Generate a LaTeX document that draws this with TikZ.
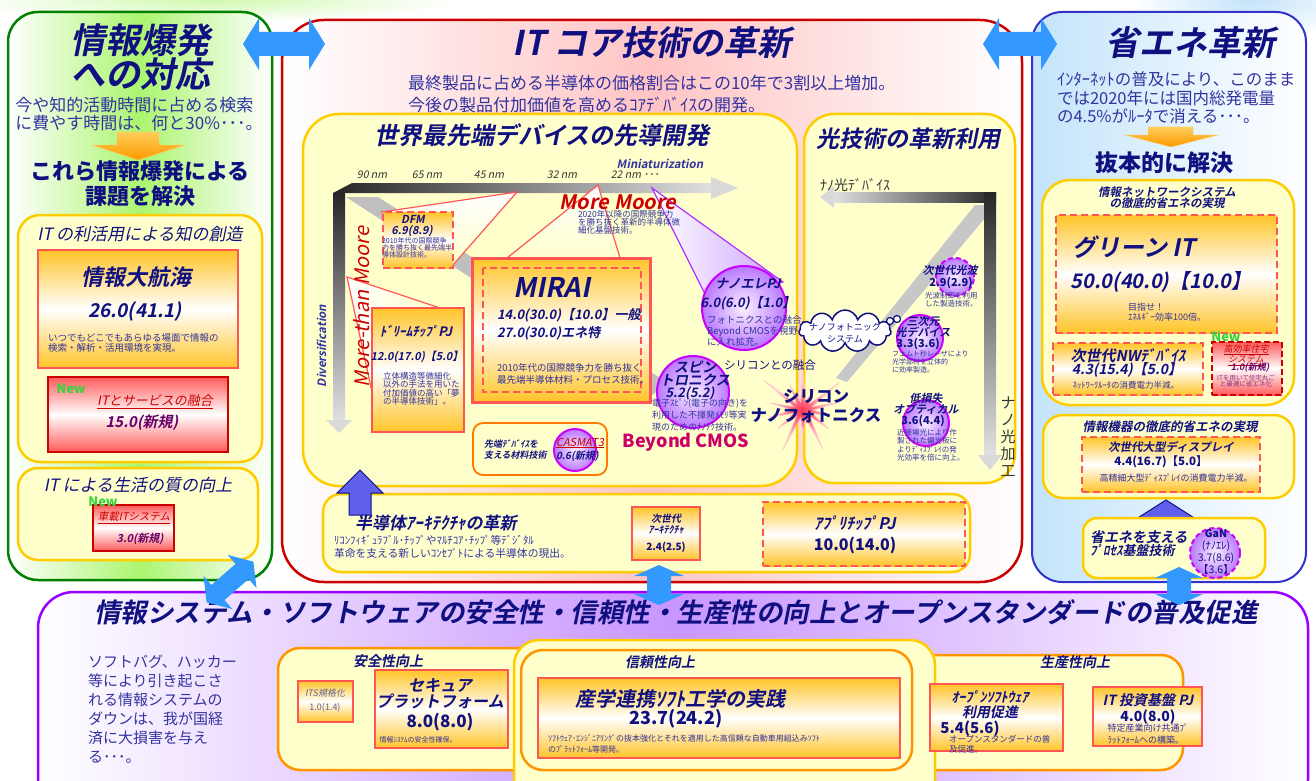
\documentclass[tikz,border=0pt]{standalone}
\usepackage{fontspec}
\setmainfont{Noto Sans CJK JP}[ItalicFont={Noto Sans CJK JP},ItalicFeatures={FakeSlant=0.2},BoldItalicFont={Noto Sans CJK JP Bold},BoldItalicFeatures={FakeSlant=0.2}]
\usetikzlibrary{fit,shapes.symbols}
\definecolor{navy}{RGB}{16,16,128}
\definecolor{dblue}{RGB}{51,51,160}
\definecolor{gold}{RGB}{255,204,0}
\definecolor{ltyel}{RGB}{255,255,204}
\definecolor{salmon}{RGB}{255,85,85}
\definecolor{orgrad}{RGB}{255,196,40}
\definecolor{dred}{RGB}{204,0,0}
\definecolor{redgrad}{RGB}{255,90,90}
\definecolor{ppl}{RGB}{153,0,255}
\definecolor{ballb}{RGB}{204,0,255}
\definecolor{ballin}{RGB}{250,240,255}
\definecolor{ballout}{RGB}{185,120,255}
\definecolor{newg}{RGB}{60,210,60}
\definecolor{arrb}{RGB}{51,153,255}
\definecolor{orarr}{RGB}{255,153,0}
\definecolor{orarrl}{RGB}{255,205,90}
\definecolor{uparr}{RGB}{95,95,235}
\definecolor{pgreen}{RGB}{0,128,0}
\definecolor{lgreen}{RGB}{170,245,110}
\definecolor{pblue}{RGB}{51,51,204}
\definecolor{lblue}{RGB}{195,228,250}
\definecolor{lpink}{RGB}{255,196,196}
\definecolor{lpurp}{RGB}{200,150,255}
\definecolor{orbord}{RGB}{255,150,0}
\definecolor{mred}{RGB}{204,0,0}
\definecolor{bcmos}{RGB}{204,0,102}
\definecolor{vio}{RGB}{102,0,102}
\definecolor{starred}{RGB}{255,50,80}
\definecolor{lavender}{RGB}{205,165,255}
\definecolor{itsgray}{RGB}{100,100,150}
\newcommand\fz[2]{\fontsize{#1}{#2}\selectfont}
\newcommand\dblarr[7]{%
\begin{scope}[shift={(#1,#2)},rotate=#3]
\fill[arrb] ({-#4/2},0) -- ({-#4/2+#5},#6) -- ({-#4/2+#5},#7) -- ({#4/2-#5},#7) -- ({#4/2-#5},#6) -- ({#4/2},0) -- ({#4/2-#5},-#6) -- ({#4/2-#5},-#7) -- ({-#4/2+#5},-#7) -- ({-#4/2+#5},-#6) -- cycle;
\end{scope}}
\tikzset{
 every node/.style={inner sep=0pt,outer sep=0pt},
 T/.style={text=navy,align=center},
 D/.style={text=dblue,align=left},
 ybox/.style={draw=gold,line width=2.5pt,fill=ltyel,rounded corners=#1},
 ybox/.default=20pt,
 obox/.style={draw=salmon,line width=2pt,top color=orgrad,bottom color=orgrad,middle color=white},
 dbox/.style={obox,dash pattern=on 7pt off 4pt},
 rbox/.style={draw=dred,line width=2.5pt,top color=redgrad,bottom color=redgrad,middle color=white},
 ball/.style={circle,draw=ballb,line width=2pt,inner color=ballin,outer color=ballout},
 dball/.style={ball,dash pattern=on 5pt off 3pt},
 newlbl/.style={text=newg,font={\fz{13}{13}\bfseries}},
 obord/.style={draw=orbord,line width=2.5pt,fill=ltyel,rounded corners=22pt},
}
\begin{document}
\begin{tikzpicture}[x=1pt,y=-1pt]
\useasboundingbox (0,0) rectangle (1316,781);
\fill[white] (0,0) rectangle (1316,781);
\shade[inner color=lgreen!55,outer color=white] (210,0) ellipse (250 and 22);
\shade[inner color=lblue,outer color=white] (1250,0) ellipse (120 and 40);
% ===== panels =====
\node[draw=pgreen,line width=2.5pt,rounded corners=30pt,left color=white,right color=white,middle color=lgreen,fit={(8,12)(272,580)}] (lp) {};
\node[draw=dred,line width=2.5pt,rounded corners=42pt,left color=white,right color=white,middle color=lpink,fit={(282,20)(1022,582)}] (mp) {};
\node[draw=pblue,line width=2pt,rounded corners=30pt,left color=lblue,right color=white,fit={(1032,12)(1306,582)}] (rp) {};
\node[draw=ppl,line width=2.5pt,rounded corners=36pt,left color=white,right color=white,middle color=lpurp,fit={(38,592)(1308,815)}] (bp) {};
% ===== left panel =====
\node[T,font={\fz{35}{32}\bfseries\itshape}] (lt1) at (140,57) {情報爆発\\への対応};
\node[D,font={\fz{17}{17.5}}] (ld1) at (139,114) {今や知的活動時間に占める検索\\に費やす時間は、何と30\%･･･。};
\shade[draw=orarrl,top color=orarrl,bottom color=orarr] (117,132) -- (159,132) -- (159,145) -- (185,145) -- (138,160) -- (92,145) -- (117,145) -- cycle;
\node[T,font={\fz{22}{25}\bfseries}] (lt2) at (140,184) {これら情報爆発による\\課題を解決};
\node[ybox=22pt,fit={(18,215)(262,462)}] (kb1) {};
\node[T,font={\fz{17}{17}\itshape}] (kt1) at (140,234) {IT の利活用による知の創造};
\node[obox,fit={(38,250)(238,368)}] (dk) {};
\node[T,font={\fz{22}{22}\bfseries\itshape}] (dkt) at (136,277) {情報大航海};
\node[T,font={\fz{19}{19}\bfseries\itshape}] (dkn) at (135,312) {26.0(41.1)};
\node[D,anchor=west,font={\fz{9.5}{10.5}}] (dkd) at (48,343) {いつでもどこでもあらゆる場面で情報の\\検索・解析・活用環境を実現。};
\node[rbox,fit={(48,377)(228,452)}] (its) {};
\node[newlbl] (new1) at (71,389) {New};
\node[text=mred,font={\fz{13}{13}\itshape}] (itst) at (155,402) {\underline{ITとサービスの融合}};
\node[text=vio,font={\fz{15}{15}\bfseries\itshape}] (itsn) at (142,423) {15.0(新規)};
\node[ybox=20pt,fit={(18,468)(258,560)}] (kb2) {};
\node[T,font={\fz{17}{17}\itshape}] (kt2) at (138,485) {IT による生活の質の向上};
\node[rbox,line width=1.5pt,fit={(93,505)(174,551)}] (car) {};
\node[newlbl] (new2) at (103,502) {New};
\node[text=mred,font={\fz{10.5}{11}\itshape}] (cart) at (134,518) {\underline{車載ITシステム}};
\node[text=vio,font={\fz{11}{11}\bfseries\itshape}] (carn) at (140,539) {3.0(新規)};
% ===== middle panel =====
\node[T,font={\fz{34}{34}\bfseries\itshape}] (mt) at (652,43) {IT コア技術の革新};
\node[D,anchor=west,font={\fz{17}{17}}] (md1) at (408,83) {最終製品に占める半導体の価格割合はこの10年で3割以上増加。};
\node[D,anchor=west,font={\fz{17}{17}}] (md2) at (408,105) {今後の製品付加価値を高めるｺｱﾃﾞﾊﾞｲｽの開発。};
\node[ybox=36pt,fit={(303,114)(797,486)}] (dev) {};
\node[ybox=30pt,fit={(804,114)(1015,483)}] (opt) {};
\node[T,font={\fz{24}{24}\bfseries\itshape}] (devt) at (542,135) {世界最先端デバイスの先導開発};
\node[T,font={\fz{23}{23}\bfseries\itshape}] (optt) at (908,139) {光技術の革新利用};
% device axes
\fill[black!25] (346,197) -- (378,197) -- (668,383) -- (652,395) -- cycle;
\shade[left color=black!85,right color=black!12] (333,193) -- (352,183) -- (713,183) -- (713,193) -- cycle;
\fill[black!15] (711,177) -- (738,188) -- (711,199) -- cycle;
\shade[top color=black!85,bottom color=black!12] (333,193) -- (345,193) -- (345,420) -- (333,420) -- cycle;
\fill[black!15] (326,420) -- (352,420) -- (339,433) -- cycle;
\node[font={\fz{10.5}{11}\itshape},text=black!80] (n90) at (372,175) {90 nm};
\node[font={\fz{10.5}{11}\itshape},text=black!80] (n65) at (427,175) {65 nm};
\node[font={\fz{10.5}{11}\itshape},text=black!80] (n45) at (489,175) {45 nm};
\node[font={\fz{10.5}{11}\itshape},text=black!80] (n32) at (562,175) {32 nm};
\node[font={\fz{10.5}{11}\itshape},text=black!80] (n22) at (635,175) {22 nm ･･･};
\node[text=dblue,font={\fz{11.5}{12}\bfseries\itshape}] (mini) at (660,164) {Miniaturization};
\node[text=dblue,font={\fz{11.5}{12}\bfseries\itshape},rotate=90] (divr) at (322,346) {Diversification};
% callouts
\draw[draw=salmon,line width=1.2pt,top color=white,bottom color=ltyel] (382,212) -- (517,192) -- (453,265) -- cycle;
\draw[draw=salmon,line width=1.2pt,top color=white,bottom color=ltyel] (598,185) -- (507,258) -- (620,258) -- cycle;
\draw[draw=salmon,line width=1.2pt,left color=white,right color=ltyel] (347,277) -- (440,308) -- (372,392) -- cycle;
\draw[draw=ppl!80,line width=1.2pt,left color=white,right color=lavender] (652,188) -- (704,292) -- (783,282) -- cycle;
\node[text=mred,font={\fz{20}{20}\itshape},rotate=90] (mtm) at (362,307) {More-than Moore};
\node[text=mred,font={\fz{20}{20}\bfseries\itshape}] (mm) at (618,202) {More Moore};
\node[D,anchor=west,font={\fz{8.5}{8}}] (mmd) at (578,222) {2020年以降の国際競争力\\を勝ち抜く革新的半導体微\\細化基盤技術。};
% DFM
\node[dbox,fit={(383,212)(453,268)}] (dfm) {};
\node[T,font={\fz{11}{11}\bfseries\itshape}] (dfmt) at (413,219) {DFM};
\node[T,font={\fz{11}{11}\bfseries\itshape}] (dfmn) at (412,231) {6.9(8.9)};
\node[D,anchor=west,font={\fz{7}{7}}] (dfmd) at (382,248) {2010年代の国際競争\\力を勝ち抜く最先端半\\導体設計技術。};
% MIRAI
\node[obox,line width=3pt,fit={(472,258)(650,402)}] (mirai) {};
\draw[salmon,line width=2pt,dash pattern=on 7pt off 4pt] (483,268) rectangle (641,392);
\node[T,font={\fz{27}{27}\bfseries\itshape}] (mirt) at (552,287) {MIRAI};
\node[T,anchor=west,font={\fz{13}{13}\bfseries\itshape}] (mirn1) at (497,315) {14.0(30.0)【10.0】一般};
\node[T,anchor=west,font={\fz{13}{13}\bfseries\itshape}] (mirn2) at (497,333) {27.0(30.0)エネ特};
\node[D,anchor=west,font={\fz{9.5}{12}}] (mird) at (497,374) {2010年代の国際競争力を勝ち抜く\\最先端半導体材料・プロセス技術。};
% Dream chip
\node[obox,line width=2.5pt,fit={(372,308)(464,432)}] (dream) {};
\node[T,font={\fz{13}{13}\bfseries\itshape}] (drt) at (416,331) {ﾄﾞﾘｰﾑﾁｯﾌﾟPJ};
\node[T,font={\fz{11}{11}\bfseries\itshape}] (drn) at (417,357) {12.0(17.0)【5.0】};
\node[D,anchor=west,font={\fz{8.5}{8.5}}] (drd) at (383,389) {立体構造等微細化\\以外の手法を用いた\\付加価値の高い「夢\\の半導体技術」。};
% Nano-ele
\node[ball,minimum size=84pt] (nano) at (744,308) {};
\node[T,font={\fz{13}{13}\bfseries\itshape}] (nanot) at (748,284) {ナノエレPJ};
\node[T,font={\fz{13}{13}\bfseries\itshape}] (nanon) at (748,303) {6.0(6.0)【1.0】};
\node[D,anchor=west,font={\fz{9.5}{11}}] (nanod) at (707,331) {フォトニクスとの融合、\\Beyond CMOSを視野\\に入れ拡充。};
% Spintronics
\node[ball,minimum size=72pt] (spin) at (693,392) {};
\node[T,font={\fz{14}{12}\bfseries\itshape}] (spint) at (695,374) {スピン\\トロニクス};
\node[T,font={\fz{13}{13}\bfseries\itshape}] (spinn) at (690,393) {5.2(5.2)};
\node[D,anchor=west,font={\fz{9}{12}}] (spind) at (652,415) {電子ｽﾋﾟﾝ(電子の向き)を\\利用した不揮発ﾒﾓﾘ等実\\現のためのﾅﾉﾃｸ技術。};
\node[text=bcmos,font={\fz{18}{18}\bfseries}] (bcm) at (686,442) {Beyond CMOS};
% CASMAT
\node[draw={rgb,255:red,255;green,120;blue,0},line width=1.8pt,fill=ltyel,rounded corners=10pt,fit={(473,423)(607,475)}] (cas) {};
\node[T,anchor=west,align=left,font={\fz{9}{11}\bfseries\itshape}] (cast) at (484,450) {先端ﾃﾞﾊﾞｲｽを\\支える材料技術};
\node[ball,minimum size=42pt] (casb) at (575,450) {};
\node[anchor=west,text=mred,font={\fz{11}{11}\itshape}] (casn) at (556,443) {\underline{CASMAT3}};
\node[T,anchor=west,font={\fz{10}{10}\bfseries\itshape}] (casv) at (556,456) {0.6(新規)};
% silicon photonics
\node[T,font={\fz{11.5}{12}}] (fuse) at (770,365) {シリコンとの融合};
\node[starburst,starburst points=14,starburst point height=42pt,minimum width=105pt,minimum height=100pt,inner color=starred,outer color=white,draw=lpink,line width=0.6pt] (sb) at (803,410) {};
\node[T,font={\fz{16.5}{19}\bfseries}] (sbt) at (816,406) {シリコン\\ナノフォトニクス};
% optical axes
\fill[black!22] (975,205) -- (996,205) -- (847,382) -- (836,378) -- cycle;
\shade[left color=black!12,right color=black!85] (833,192) rectangle (996,202);
\fill[black!15] (834,186) -- (820,197) -- (834,208) -- cycle;
\shade[top color=black!85,bottom color=black!12] (984,192) rectangle (996,455);
\fill[black!15] (978,455) -- (1002,455) -- (990,470) -- cycle;
\node[font={\fz{14}{14}},text=black!80] (nld) at (855,185) {ﾅﾉ光ﾃﾞﾊﾞｲｽ};
\node[font={\fz{15}{17}},text=black!80,align=center] (nlk) at (1008,437) {ナ\\ノ\\光\\加\\工};
\node[cloud,cloud puffs=11,aspect=2.2,draw=navy,line width=1.5pt,fill=white,minimum width=92pt,minimum height=42pt] (cl) at (845,331) {};
\draw[navy,line width=1.2pt,fill=white] (890,321) circle (3.5) (897,319) circle (3.5);
\node[T,font={\fz{9}{12}}] (clt) at (845,333) {ナノフォトニック\\システム};
\node[dball,minimum size=38pt] (kp) at (955,277) {};
\node[T,font={\fz{11}{11}\bfseries\itshape}] (kpt) at (950,270) {次世代光波};
\node[T,font={\fz{11}{11}\bfseries}] (kpn) at (951,283) {2.9(2.9)};
\node[D,anchor=west,font={\fz{7.5}{8}}] (kpd) at (925,300) {光波制御を利用\\した製造技術。};
\node[ball,minimum size=46pt] (sj) at (920,338) {};
\node[T,font={\fz{11}{10.5}\bfseries\itshape}] (sjt) at (923,327) {三次元\\光デバイス};
\node[T,font={\fz{11}{11}\bfseries}] (sjn) at (918,344) {3.3(3.6)};
\node[D,anchor=west,font={\fz{7}{8}}] (sjd) at (892,362) {フェムト秒レーザにより\\光学部材を立体的\\に効率製造。};
\node[ball,minimum size=46pt] (ts) at (926,423) {};
\node[T,font={\fz{11}{11}\bfseries\itshape}] (tst) at (926,404) {低損失\\オプティカル};
\node[T,font={\fz{11}{11}\bfseries}] (tsn) at (923,421) {3.6(4.4)};
\node[D,anchor=west,font={\fz{7.5}{8.5}}] (tsd) at (897,445) {近接場光により作\\製された偏光板に\\よりﾃﾞｨｽﾌﾟﾚｲの発\\光効率を倍に向上。};
% architecture
\node[ybox=18pt,fit={(323,494)(970,572)}] (arch) {};
\filldraw[fill=uparr,draw=navy,line width=1pt] (360,470) -- (383,493) -- (371,493) -- (371,515) -- (349,515) -- (349,493) -- (337,493) -- cycle;
\node[T,anchor=west,font={\fz{17}{17}\bfseries\itshape}] (archt) at (355,523) {半導体ｱｰｷﾃｸﾁｬの革新};
\node[D,anchor=west,font={\fz{10.8}{12.5}}] (archd) at (334,547) {ﾘｺﾝﾌｨｷﾞｭﾗﾌﾞﾙ･ﾁｯﾌﾟやﾏﾙﾁｺｱ･ﾁｯﾌﾟ等ﾃﾞｼﾞﾀﾙ\\革命を支える新しいｺﾝｾﾌﾟﾄによる半導体の現出。};
\node[obox,fit={(632,507)(700,560)}] (nar) {};
\node[T,font={\fz{10}{11}\bfseries\itshape}] (nart) at (666,524) {次世代\\ｱｰｷﾃｸﾁｬ};
\node[T,font={\fz{10}{10}\bfseries}] (narn) at (666,547) {2.4(2.5)};
\node[dbox,fit={(763,502)(965,566)}] (app) {};
\node[T,font={\fz{16}{16}\bfseries\itshape}] (appt) at (855,523) {ｱﾌﾟﾘﾁｯﾌﾟPJ};
\node[T,font={\fz{16}{16}\bfseries}] (appn) at (855,545) {10.0(14.0)};
% ===== right panel =====
\node[T,font={\fz{34}{34}\bfseries\itshape}] (rt) at (1190,43) {省エネ革新};
\node[D,anchor=west,font={\fz{16.5}{18.5}}] (rd) at (1057,98) {ｲﾝﾀｰﾈｯﾄの普及により、このまま\\では2020年には国内総発電量\\の4.5\%がﾙｰﾀで消える･･･。};
\shade[draw=orarrl,top color=orarrl,bottom color=orarr] (1148,127) -- (1193,127) -- (1193,135) -- (1218,135) -- (1171,147) -- (1125,135) -- (1148,135) -- cycle;
\node[T,font={\fz{23}{23}\bfseries}] (rt2) at (1164,163) {抜本的に解決};
\node[ybox=28pt,fit={(1042,180)(1294,405)}] (nw) {};
\node[T,font={\fz{11.5}{11}\bfseries\itshape}] (nwt) at (1167,198) {情報ネットワークシステム\\の徹底的省エネの実現};
\node[dbox,fit={(1056,215)(1277,333)}] (git) {};
\node[T,font={\fz{24}{24}\bfseries\itshape}] (gitt) at (1134,247) {グリーン IT};
\node[T,font={\fz{20}{20}\bfseries\itshape}] (gitn) at (1161,282) {50.0(40.0)【10.0】};
\node[D,anchor=west,font={\fz{9}{10}}] (gitd) at (1128,312) {目指せ！\\ｴﾈﾙｷﾞｰ効率100倍。};
\node[dbox,fit={(1053,343)(1203,395)}] (nwd) {};
\node[T,font={\fz{15}{15}\bfseries\itshape}] (nwdt) at (1128,356) {次世代NWﾃﾞﾊﾞｲｽ};
\node[T,font={\fz{14}{14}\bfseries\itshape}] (nwdn) at (1127,370) {4.3(15.4)【5.0】};
\node[D,font={\fz{8.5}{9}}] (nwdd) at (1126,385) {ﾈｯﾄﾜｰｸﾙｰﾀの消費電力半減。};
\node[rbox,dash pattern=on 6pt off 3pt,fit={(1212,342)(1282,395)}] (hj) {};
\node[newlbl] (new3) at (1226,337) {New};
\node[text=mred,align=center,font={\fz{9}{8}\itshape}] (hjt) at (1246,355) {\underline{高効率住宅}\\\underline{システム}};
\node[text=vio,font={\fz{9}{9}\bfseries\itshape}] (hjn) at (1250,368) {1.0(新規)};
\node[text=vio!80,align=center,font={\fz{6.5}{6.5}}] (hjd) at (1246,381) {ITを用いて住宅丸ご\\と最適に省エネ化};
\node[ybox=20pt,fit={(1043,415)(1294,498)}] (kk) {};
\node[T,font={\fz{12.5}{12.5}\bfseries\itshape}] (kkt) at (1170,427) {情報機器の徹底的省エネの実現};
\node[dbox,fit={(1082,437)(1260,492)}] (disp) {};
\node[T,font={\fz{11.5}{11.5}\bfseries\itshape}] (dispt) at (1171,447) {次世代大型ディスプレイ};
\node[T,font={\fz{11.5}{11.5}\bfseries}] (dispn) at (1161,462) {4.4(16.7)【5.0】};
\node[D,font={\fz{9}{9}}] (dispd) at (1176,478) {高精細大型ﾃﾞｨｽﾌﾟﾚｲの消費電力半減。};
\filldraw[fill=uparr,draw=navy,line width=1pt] (1166,500) -- (1199,521) -- (1179,521) -- (1179,530) -- (1153,530) -- (1153,521) -- (1133,521) -- cycle;
\node[ybox=14pt,fit={(1083,518)(1265,578)}] (pk) {};
\node[T,anchor=west,font={\fz{14}{14}\bfseries\itshape}] (pkt1) at (1090,537) {省エネを支える};
\node[T,anchor=west,font={\fz{13}{13}\bfseries\itshape}] (pkt2) at (1090,551) {ﾌﾟﾛｾｽ基盤技術};
\node[dball,minimum size=50pt] (gan) at (1215,553) {};
\node[T,font={\fz{10.5}{11.8}}] (gant) at (1216,552) {\textbf{GaN}\\(ﾅﾉｴﾚ)\\3.7(8.6)\\【3.6】};
% ===== bottom panel =====
\node[T,font={\fz{26.5}{27}\bfseries\itshape}] (bt) at (676,612) {情報システム・ソフトウェアの安全性・信頼性・生産性の向上とオープンスタンダードの普及促進};
\node[D,anchor=north west,font={\fz{15}{19}}] (bd) at (88,655) {ソフトバグ、ハッカー\\等により引き起こさ\\れる情報システムの\\ダウンは、我が国経\\済に大損害を与え\\る･･･。};
\node[obord,fit={(278,648)(560,770)}] (anz) {};
\node[obord,fit={(880,655)(1183,770)}] (sei) {};
\node[draw=gold,line width=2.5pt,fill=ltyel,rounded corners=25pt,fit={(514,640)(935,815)}] (shin0) {};
\node[obord,fit={(521,650)(912,770)}] (shin) {};
\node[T,font={\fz{14}{14}\bfseries\itshape}] (anzt) at (388,661) {安全性向上};
\node[obox,fit={(298,681)(353,722)}] (itsb) {};
\node[text=itsgray,font={\fz{9}{9}\itshape}] (itsbt) at (325,693) {ITS規格化};
\node[text=itsgray,font={\fz{9}{9}}] (itsbn) at (325,708) {1.0(1.4)};
\node[obox,fit={(375,670)(508,748)}] (sec) {};
\node[T,font={\fz{16}{16}\bfseries\itshape}] (sect) at (440,694) {セキュア\\プラットフォーム};
\node[T,font={\fz{17}{17}\bfseries}] (secn) at (440,722) {8.0(8.0)};
\node[D,font={\fz{7}{7}}] (secd) at (418,740) {情報ｼｽﾃﾑの安全性確保。};
\node[T,font={\fz{14}{14}\bfseries\itshape}] (shint) at (660,662) {信頼性向上};
\node[obox,fit={(538,678)(900,758)}] (sang) {};
\node[T,font={\fz{20}{20}\bfseries\itshape}] (sangt) at (680,699) {産学連携ｿﾌﾄ工学の実践};
\node[T,font={\fz{18}{18}\bfseries}] (sangn) at (676,719) {23.7(24.2)};
\node[D,anchor=west,font={\fz{8}{11}}] (sangd) at (548,744) {ｿﾌﾄｳｪｱ･ｴﾝｼﾞﾆｱﾘﾝｸﾞの抜本強化とそれを適用した高信頼な自動車用組込みｿﾌﾄ\\のﾌﾟﾗｯﾄﾌｫｰﾑ等開発。};
\node[T,font={\fz{14}{14}\bfseries\itshape}] (seit) at (1075,662) {生産性向上};
\node[obox,fit={(930,684)(1063,751)}] (oss) {};
\node[T,font={\fz{14}{15}\bfseries\itshape}] (osst) at (990,705) {ｵｰﾌﾟﾝｿﾌﾄｳｪｱ\\利用促進};
\node[T,font={\fz{15}{15}\bfseries}] (ossn) at (970,729) {5.4(5.6)};
\node[D,anchor=west,font={\fz{8.5}{10}}] (ossd) at (949,744) {オープンスタンダードの普\\及促進。};
\node[obox,fit={(1093,687)(1202,746)}] (itp) {};
\node[T,font={\fz{14}{14}\bfseries\itshape}] (itpt) at (1148,700) {IT 投資基盤 PJ};
\node[T,font={\fz{14}{14}\bfseries}] (itpn) at (1148,717) {4.0(8.0)};
\node[D,font={\fz{9}{12}}] (itpd) at (1148,734) {特定産業向け共通ﾌﾟ\\ﾗｯﾄﾌｫｰﾑへの構築。};
% ===== blue double arrows =====
\dblarr{284}{44}{0}{82}{16}{26}{12}
\dblarr{1020}{44}{0}{74}{16}{26}{12}
\dblarr{659}{585}{90}{40}{11}{25}{12}
\dblarr{1179}{586}{90}{38}{11}{24}{12}
\dblarr{230}{582}{41}{62}{15}{22}{10}
\end{tikzpicture}
\end{document}
